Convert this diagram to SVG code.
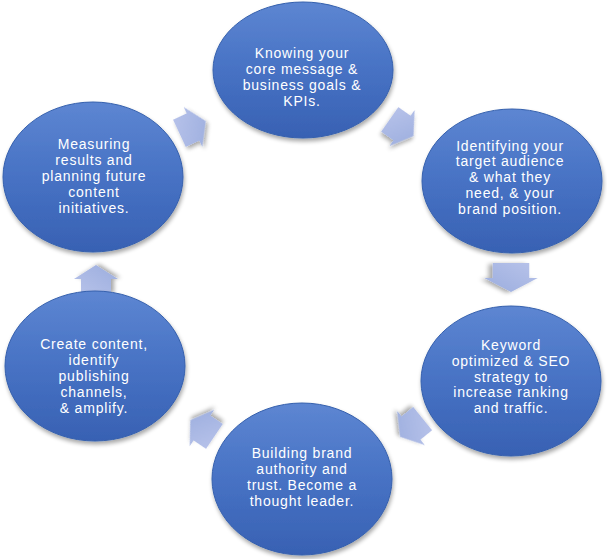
<svg xmlns="http://www.w3.org/2000/svg" width="607" height="559" viewBox="0 0 607 559">
<defs>
<linearGradient id="cg" x1="0" y1="0" x2="0" y2="1">
<stop offset="0" stop-color="#5d86d2"/>
<stop offset="0.5" stop-color="#4772c4"/>
<stop offset="1" stop-color="#3861b3"/>
</linearGradient>
<linearGradient id="ag" x1="0" y1="0" x2="1" y2="1">
<stop offset="0" stop-color="#b8c3ea"/>
<stop offset="1" stop-color="#9badde"/>
</linearGradient>
<filter id="sh" x="-20%" y="-20%" width="140%" height="140%">
<feGaussianBlur in="SourceAlpha" stdDeviation="2"/>
<feOffset dx="1" dy="3" result="b"/>
<feComponentTransfer><feFuncA type="linear" slope="0.35"/></feComponentTransfer>
<feMerge><feMergeNode/><feMergeNode in="SourceGraphic"/></feMerge>
</filter>
<path id="arr" d="M-15,-15 H0 V-22 L14,0 L0,22 V15 H-15 Z"/>
</defs>
<style>
.c{fill:url(#cg);stroke:#3560ad;stroke-width:1;filter:url(#sh)}
.t{font-family:"Liberation Sans",Arial,sans-serif;font-size:14px;letter-spacing:0.8px;fill:#ffffff;text-anchor:middle}
.a{fill:url(#ag);filter:url(#sh)}
</style>
<rect width="607" height="559" fill="#ffffff"/>
<g id="connectors">
<use href="#arr" class="a" transform="translate(193,127) rotate(-25)"/>
<use href="#arr" class="a" transform="translate(402,128) rotate(35)"/>
<use href="#arr" class="a" transform="translate(511,278) rotate(90) scale(1,1.22)"/>
<use href="#arr" class="a" transform="translate(411,428) rotate(141)"/>
<use href="#arr" class="a" transform="translate(202,428) rotate(214)"/>
<use href="#arr" class="a" transform="translate(96,279) rotate(-90)"/>
</g>
<g id="n1">
<ellipse class="c" cx="303" cy="70" rx="90" ry="68"/>
<text class="t" y="58"><tspan x="302">Knowing your</tspan><tspan x="302" dy="16">core message &amp;</tspan><tspan x="302" dy="16">business goals &amp;</tspan><tspan x="302" dy="16">KPIs.</tspan></text>
</g>
<g id="n2">
<ellipse class="c" cx="512" cy="181" rx="90" ry="72"/>
<text class="t" y="150.5"><tspan x="510">Identifying your</tspan><tspan x="510" dy="15.8">target audience</tspan><tspan x="510" dy="15.8">&amp; what they</tspan><tspan x="510" dy="15.8">need, &amp; your</tspan><tspan x="510" dy="15.8">brand position.</tspan></text>
</g>
<g id="n3">
<ellipse class="c" cx="511" cy="381" rx="90" ry="75"/>
<text class="t" y="350"><tspan x="511">Keyword</tspan><tspan x="511" dy="15.8">optimized &amp; SEO</tspan><tspan x="511" dy="15.8">strategy to</tspan><tspan x="511" dy="15.8">increase ranking</tspan><tspan x="511" dy="15.8">and traffic.</tspan></text>
</g>
<g id="n4">
<ellipse class="c" cx="302" cy="479" rx="90" ry="76"/>
<text class="t" y="457.5"><tspan x="302">Building brand</tspan><tspan x="302" dy="16.3">authority and</tspan><tspan x="302" dy="16.3">trust. Become a</tspan><tspan x="302" dy="16.3">thought leader.</tspan></text>
</g>
<g id="n5">
<ellipse class="c" cx="95" cy="366" rx="90" ry="75"/>
<text class="t" y="349"><tspan x="94">Create content,</tspan><tspan x="94" dy="16">identify</tspan><tspan x="94" dy="16">publishing</tspan><tspan x="94" dy="16">channels,</tspan><tspan x="94" dy="16">&amp; amplify.</tspan></text>
</g>
<g id="n6">
<ellipse class="c" cx="93" cy="177" rx="90" ry="75"/>
<text class="t" y="149"><tspan x="94">Measuring</tspan><tspan x="94" dy="16">results and</tspan><tspan x="94" dy="16">planning future</tspan><tspan x="94" dy="16">content</tspan><tspan x="94" dy="16">initiatives.</tspan></text>
</g>
</svg>
